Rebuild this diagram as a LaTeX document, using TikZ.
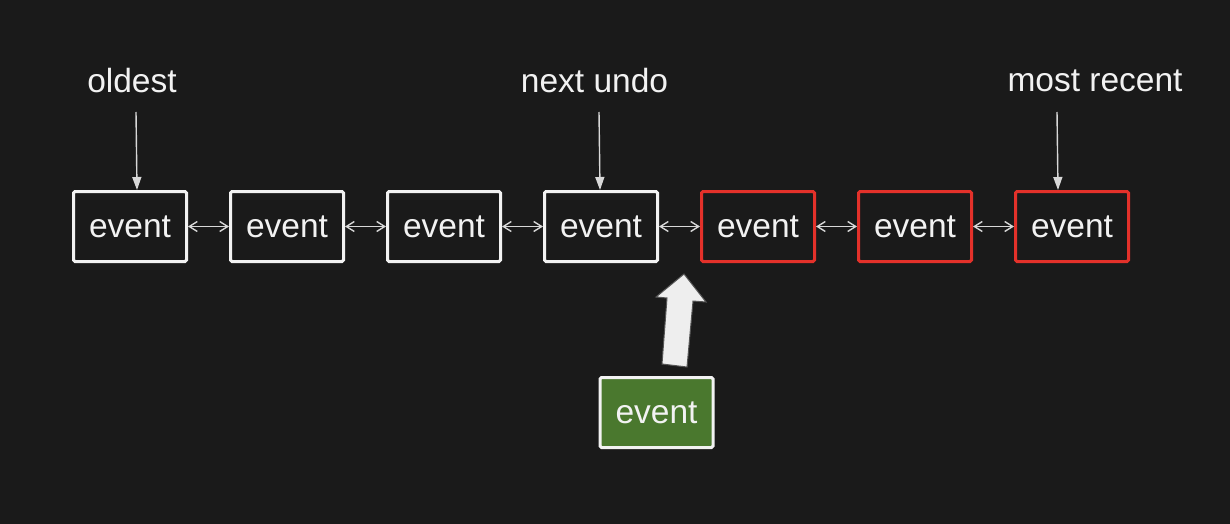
\documentclass[tikz,border=0pt]{standalone}
\usepackage{fontspec}
\setmainfont{Liberation Sans}
\usetikzlibrary{arrows.meta}
\definecolor{bg}{HTML}{1A1A1A}
\definecolor{fg}{HTML}{F2F2F2}
\definecolor{conn}{HTML}{D8D8D8}
\definecolor{redc}{HTML}{E3312A}
\definecolor{greenc}{HTML}{4A782E}
\definecolor{arrfill}{HTML}{EEEEEE}
\definecolor{arredge}{HTML}{555555}
\tikzset{
  evbox/.style={draw=fg, line width=3pt, rounded corners=1.5pt, minimum width=113pt, minimum height=70pt, inner sep=0pt, text=fg, font=\fontsize{33.5}{40}\selectfont},
  redbox/.style={evbox, draw=redc},
  greenbox/.style={evbox, fill=greenc},
  lbl/.style={text=fg, font=\fontsize{33.5}{40}\selectfont, inner sep=0pt},
  link/.style={draw=conn, line width=1.4pt, {Straight Barb[length=8pt,width=10pt]}-{Straight Barb[length=8pt,width=10pt]}},
  pointer/.style={draw=conn, line width=1.4pt, -{Triangle[length=13pt,width=9pt]}},
}
\begin{document}
\begin{tikzpicture}[x=1pt,y=-1pt]
\fill[bg] (0,0) rectangle (1230,524);
\useasboundingbox (0,0) rectangle (1230,524);

\node[evbox]  (b1) at (130,226.5) {event};
\node[evbox]  (b2) at (287,226.5) {event};
\node[evbox]  (b3) at (444,226.5) {event};
\node[evbox]  (b4) at (601,226.5) {event};
\node[redbox] (b5) at (758,226.5) {event};
\node[redbox] (b6) at (915,226.5) {event};
\node[redbox] (b7) at (1072,226.5) {event};
\node[greenbox] (g) at (656.5,412.5) {event};

\foreach \a/\b in {b1/b2,b2/b3,b3/b4,b4/b5,b5/b6,b6/b7}
  \draw[link] (\a.east) -- (\b.west);

\node[lbl] (l1) at (132,81) {oldest};
\node[lbl] (l2) at (594.5,81) {next undo};
\node[lbl] (l3) at (1095,81) {most recent};

\coordinate (s1) at (136,112);  \coordinate (e1) at (137,190);
\coordinate (s2) at (599,112);  \coordinate (e2) at (600,190);
\coordinate (s3) at (1057,112); \coordinate (e3) at (1058,190);
\draw[pointer] (s1) -- (e1);
\draw[pointer] (s2) -- (e2);
\draw[pointer] (s3) -- (e3);

% block arrow
\draw[fill=arrfill, draw=arredge, line width=1pt, line join=miter]
  (684,274) -- (706,302) -- (693,301) -- (687,367) -- (662,364) -- (667,298) -- (656,297) -- cycle;
\end{tikzpicture}
\end{document}
